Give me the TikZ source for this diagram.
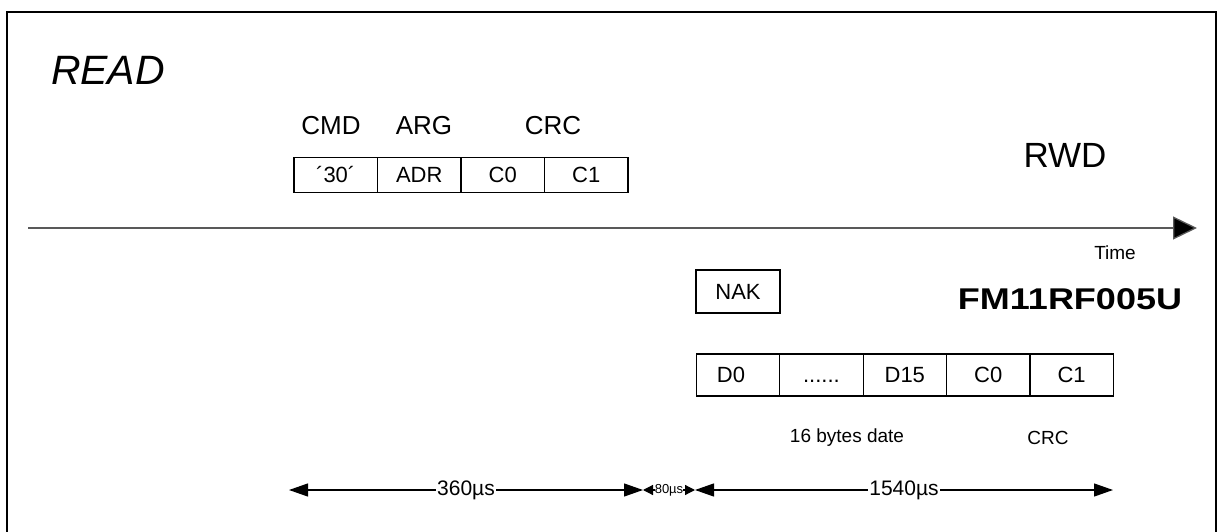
\documentclass[tikz,border=0pt]{standalone}
\usepackage{fontspec}
\setmainfont{Liberation Sans}
\usetikzlibrary{arrows.meta,positioning}
\begin{document}
\begin{tikzpicture}[x=1pt,y=-1pt,every node/.style={font=\fontsize{22}{26}\selectfont},
  cell/.style={draw,line width=1.2pt,minimum width=83.5pt,inner sep=0pt,outer sep=0pt},
  dim/.style={line width=1.2pt,{Triangle[length=19pt,width=13pt]}-{Triangle[length=19pt,width=13pt]}}]
\useasboundingbox (0,0) rectangle (1224,532);
% frame
\draw[line width=1.5pt] (7,532) -- (7,12) -- (1216,12) -- (1216,532);
\node[font=\fontsize{41}{46}\selectfont\itshape] (read) at (108,70) {READ};
% RWD frame
\node[font=\fontsize{26}{30}\selectfont] (cmd) at (331,126) {CMD};
\node[font=\fontsize{26}{30}\selectfont] (arg) at (424,126) {ARG};
\node[font=\fontsize{26}{30}\selectfont] (crc) at (553,126) {CRC};
\node[cell,minimum height=35pt] (c30) at (335.75,175) {´30´};
\node[cell,minimum height=35pt,right=0pt of c30] (adr) {ADR};
\node[cell,minimum height=35pt,right=0pt of adr] (rc0) {C0};
\node[cell,minimum height=35pt,right=0pt of rc0] (rc1) {C1};
\node[font=\fontsize{35}{40}\selectfont] (rwd) at (1065,155) {RWD};
% Time axis
\coordinate (t0) at (28,228);
\coordinate (t1) at (1197,228);
\draw[line width=1.3pt,black!65,-{Triangle[length=24pt,width=23pt,fill=black]}] (t0) -- (t1);
\node[font=\fontsize{19}{22}\selectfont] (time) at (1115,253) {Time};
% Card answer
\node[cell,minimum width=84pt,minimum height=43pt] (nak) at (738,291.5) {NAK};
\node[font=\fontsize{30}{34}\selectfont\bfseries] (chip) at (1070,299) {\scalebox{1.2}[1]{FM11RF005U}};
\node[cell,minimum width=83.4pt,minimum height=42pt] (d0) at (738,375) {\hspace*{-14pt}D0};
\node[cell,minimum width=83.4pt,minimum height=42pt,right=0pt of d0] (dots) {\vphantom{D0}......};
\node[cell,minimum width=83.4pt,minimum height=42pt,right=0pt of dots] (d15) {D15};
\node[cell,minimum width=83.4pt,minimum height=42pt,right=0pt of d15] (ac0) {C0};
\node[cell,minimum width=83.4pt,minimum height=42pt,right=0pt of ac0] (ac1) {C1};
\node[font=\fontsize{19}{22}\selectfont] (data) at (847,438) {16 bytes date};
\node[font=\fontsize{19}{22}\selectfont] (acrc) at (1048,438) {CRC};
% Timing
\coordinate (m0) at (289,490);
\coordinate (m1) at (643,490);
\coordinate (m2) at (695,490);
\coordinate (m3) at (1113,490);
\draw[dim] (m0) -- (m1) node[midway,fill=white,inner sep=1pt,font=\fontsize{21}{24}\selectfont] (t360) {360µs};
\draw[line width=1.2pt,{Triangle[length=10pt,width=10pt]}-{Triangle[length=10pt,width=10pt]}] (m1) -- (m2) node[midway,fill=white,inner sep=0pt,font=\fontsize{13}{15}\selectfont] (t80) {80µs};
\draw[dim] (m2) -- (m3) node[midway,fill=white,inner sep=1pt,font=\fontsize{21}{24}\selectfont] (t1540) {1540µs};
\end{tikzpicture}
\end{document}
